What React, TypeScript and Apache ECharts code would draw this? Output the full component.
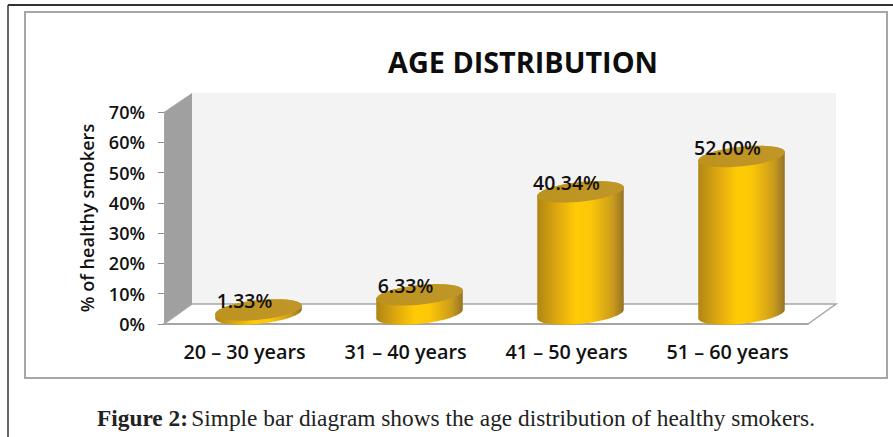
import React, { useEffect, useRef } from "react";
import * as echarts from "echarts";

const ageGroups = ["20 – 30 years", "31 – 40 years", "41 – 50 years", "51 – 60 years"];
const smokerShares = [1.33, 6.33, 40.34, 52.0];
const axisTicks = [0, 10, 20, 30, 40, 50, 60, 70];

const SANS = "'Open Sans', sans-serif";
const SERIF = "'Liberation Serif', serif";
const DEPTH_X = 28;
const DEPTH_Y = 20;
const RX = 43.5;
const RY = 9.8;
const TILT = (6 * Math.PI) / 180;

const bodyGradient = () =>
  new echarts.graphic.LinearGradient(0, 0, 1, 0, [
    { offset: 0, color: "#b08614" },
    { offset: 0.25, color: "#e2ab0e" },
    { offset: 0.45, color: "#ffcb05" },
    { offset: 0.62, color: "#fcc707" },
    { offset: 0.87, color: "#cb9c1c" },
    { offset: 1, color: "#957326" },
  ]);

const lidGradient = () =>
  new echarts.graphic.LinearGradient(0, 0, 1, 0, [
    { offset: 0, color: "#bd931f" },
    { offset: 1, color: "#c09628" },
  ]);

// Point on a tilted ellipse around (cx, cy); the right side sits higher than the left.
const ellipsePoint = (cx: number, cy: number, t: number) => {
  const x = RX * Math.cos(t);
  const y = RY * Math.sin(t);
  return [cx + x * Math.cos(TILT) + y * Math.sin(TILT), cy - x * Math.sin(TILT) + y * Math.cos(TILT)];
};

const renderCylinder = (params: any, api: any) => {
  const category = api.value(0);
  const value = api.value(1);
  const [frontX, zeroY] = api.coord([category, 0]);
  const topY = api.coord([category, value])[1];
  const cx = frontX + DEPTH_X / 2;
  const baseY = zeroY - DEPTH_Y / 2;
  const lidY = baseY - (zeroY - topY);

  // The wall runs along the lower arc of the base and the upper arc of the lid.
  const wall: number[][] = [];
  for (let i = 0; i <= 40; i++) {
    wall.push(ellipsePoint(cx, baseY, (Math.PI * i) / 40));
  }
  for (let i = 0; i <= 40; i++) {
    wall.push(ellipsePoint(cx, lidY, Math.PI + (Math.PI * i) / 40));
  }

  const lid: number[][] = [];
  for (let i = 0; i < 80; i++) {
    lid.push(ellipsePoint(cx, lidY, (2 * Math.PI * i) / 80));
  }

  return {
    type: "group",
    children: [
      { type: "polygon", shape: { points: wall }, style: { fill: bodyGradient() } },
      { type: "polygon", shape: { points: lid }, style: { fill: lidGradient() } },
      {
        type: "text",
        style: {
          x: frontX,
          y: topY - 19.5,
          text: `${value.toFixed(2)}%`,
          align: "center",
          verticalAlign: "middle",
          font: `600 19.5px ${SANS}`,
          fill: "#111111",
        },
      },
    ],
  };
};

export default function App() {
  const ref = useRef<HTMLDivElement>(null);

  useEffect(() => {
    const chart = echarts.init(ref.current!, null, { renderer: "svg" });
    chart.setOption({
      animation: false,
      backgroundColor: "#ffffff",
      title: {
        text: "AGE DISTRIBUTION",
        left: 518,
        top: 42,
        textAlign: "center",
        textStyle: { fontFamily: SANS, fontWeight: 700, fontSize: 28.8, color: "#0d0d0d" },
      },
      grid: { left: 164, right: 85, top: 112, bottom: 113 },
      xAxis: {
        type: "category",
        data: ageGroups,
        axisLine: { lineStyle: { color: "#a6a6a6", width: 2 } },
        axisTick: { show: false },
        axisLabel: {
          margin: 17,
          fontFamily: SANS,
          fontWeight: 600,
          fontSize: 19.8,
          color: "#111111",
        },
      },
      yAxis: {
        type: "value",
        min: axisTicks[0],
        max: axisTicks[axisTicks.length - 1],
        interval: 10,
        name: "% of healthy smokers",
        nameLocation: "middle",
        nameGap: 68,
        nameTextStyle: { fontFamily: SANS, fontWeight: 600, fontSize: 18.2, color: "#111111" },
        axisLine: { show: true, lineStyle: { color: "#a6a6a6", width: 1 } },
        axisTick: { show: true, length: 6, lineStyle: { color: "#8c8c8c" } },
        splitLine: { show: false },
        axisLabel: {
          margin: 19,
          formatter: "{value}%",
          fontFamily: SANS,
          fontWeight: 600,
          fontSize: 18,
          color: "#111111",
        },
      },
      graphic: [
        {
          type: "group",
          silent: true,
          children: [
            // Page frame and inner chart frame
            { type: "line", shape: { x1: 8, y1: 5, x2: 893, y2: 5 }, style: { stroke: "#333333", lineWidth: 2 } },
            { type: "line", shape: { x1: 8, y1: 5, x2: 8, y2: 437 }, style: { stroke: "#333333", lineWidth: 1.5 } },
            { type: "rect", shape: { x: 25, y: 12, width: 862, height: 366 }, style: { fill: "#ffffff", stroke: "#a6a6a6", lineWidth: 2 } },
            // Back wall, side wall and floor edges of the 3D box
            { type: "polygon", shape: { points: [[192, 93], [836, 93], [836, 304], [192, 304]] }, style: { fill: "#f3f3f3" } },
            { type: "polygon", shape: { points: [[164, 112], [192, 93], [192, 304], [164, 324]] }, style: { fill: "#a0a0a0" } },
            { type: "polyline", shape: { points: [[164, 324], [192, 304], [836, 304], [808, 324]] }, style: { fill: "none", stroke: "#a6a6a6", lineWidth: 1.5 } },
            // Figure caption
            {
              type: "text",
              x: 97,
              y: 418,
              style: {
                text: "{b|Figure 2:} {r|Simple bar diagram shows the age distribution of healthy smokers.}",
                verticalAlign: "middle",
                rich: {
                  b: { font: `700 23.35px ${SERIF}`, fill: "#222222" },
                  r: { font: `400 23.35px ${SERIF}`, fill: "#222222" },
                },
              },
            },
          ],
        },
      ],
      series: [
        {
          type: "custom",
          coordinateSystem: "cartesian2d",
          renderItem: renderCylinder,
          encode: { x: 0, y: 1 },
          clip: false,
          z: 5,
          data: smokerShares.map((share, i) => [i, share]),
        },
      ],
    });
    return () => chart.dispose();
  }, []);

  return <div ref={ref} style={{ position: "fixed", left: 0, top: 0, width: 893, height: 437 }} />;
}
